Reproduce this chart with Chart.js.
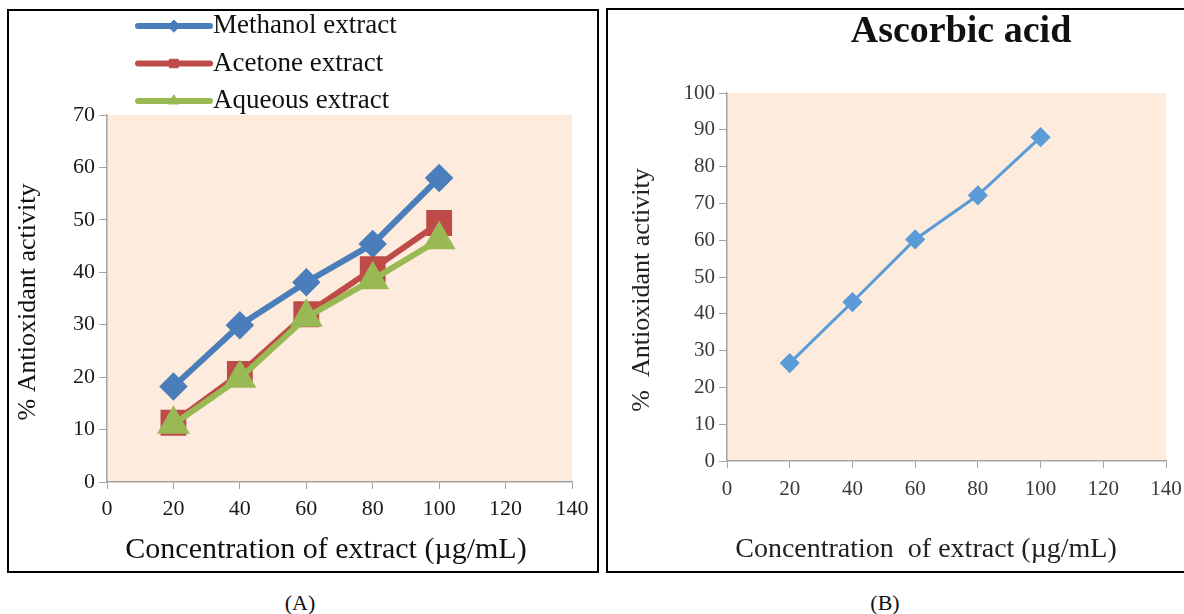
<!DOCTYPE html>
<html lang="en">
<head>
  <meta charset="UTF-8" />
  <title>Antioxidant activity</title>
  <script src="https://cdn.jsdelivr.net/npm/chart.js"></script>
  <style>
    html, body { margin: 0; padding: 0; background: #fff; overflow: hidden; }
    body { width: 1184px; height: 614px; position: relative; font-family: "Liberation Serif", "Times New Roman", serif; }
    .panel { position: absolute; border: 2px solid #000; overflow: hidden; background: #fff; }
    #panelA { left: 7px; top: 9px; width: 588px; height: 560px; }
    #panelB { left: 606px; top: 8px; width: 600px; height: 561px; }
    .caption { position: absolute; top: 590px; font-size: 22px; color: #111; transform: translateX(-50%); }
  </style>
</head>
<body>
  <div class="panel" id="panelA"><canvas id="chartA" width="588" height="560"></canvas></div>
  <div class="panel" id="panelB"><canvas id="chartB" width="576" height="561"></canvas></div>
  <div class="caption" style="left:300px">(A)</div>
  <div class="caption" style="left:885px">(B)</div>

  <script>
    // concentrations (µg/mL)
    const concentrations = [20, 40, 60, 80, 100];

    // panel A: extracts
    const methanol = [18.2, 29.9, 38.1, 45.4, 58.0];
    const acetone = [11.3, 20.6, 32.0, 40.6, 49.4];
    const aqueous = [11.0, 19.8, 31.4, 38.6, 46.2];

    // panel B: standard
    const ascorbic = [26.6, 43.2, 60.2, 72.2, 88.0];

    const xTicks = { min: 0, max: 140, step: 20 };
    const yTicksA = { min: 0, max: 70, step: 10 };
    const yTicksB = { min: 0, max: 100, step: 10 };

    const serif = "'Liberation Serif', 'Times New Roman', serif";
    const axisGray = "#a3a3a3";

    const toPoints = (ys) => ys.map((y, i) => ({ x: concentrations[i], y }));

    // peach plot area
    const plotBg = {
      id: "plotBg",
      beforeDraw(chart) {
        const { ctx, chartArea: a } = chart;
        ctx.save();
        ctx.fillStyle = "#fdebdd";
        ctx.fillRect(a.left, a.top, a.width, a.height);
        ctx.restore();
      }
    };

    // titles placed where the original figure has them
    const panelText = {
      id: "panelText",
      afterDraw(chart, args, opts) {
        const ctx = chart.ctx;
        (opts.items || []).forEach(t => {
          ctx.save();
          ctx.translate(t.x, t.y);
          if (t.rotate) ctx.rotate(t.rotate);
          ctx.font = t.font;
          ctx.fillStyle = t.color || "#111";
          ctx.textAlign = "center";
          ctx.textBaseline = "middle";
          ctx.fillText(t.text, 0, 0);
          ctx.restore();
        });
      }
    };

    // stacked legend in the top left corner of panel A
    const stackedLegend = {
      id: "stackedLegend",
      afterDraw(chart, args, opts) {
        if (!opts.display) return;
        const ctx = chart.ctx;
        chart.data.datasets.forEach((ds, i) => {
          const y = opts.top + i * opts.rowGap;
          ctx.save();
          ctx.strokeStyle = ds.borderColor;
          ctx.lineWidth = 6;
          ctx.lineCap = "round";
          ctx.beginPath();
          ctx.moveTo(opts.left, y);
          ctx.lineTo(opts.left + opts.lineLen, y);
          ctx.stroke();
          if (Chart.helpers && Chart.helpers.drawPoint) {
            ctx.fillStyle = ds.backgroundColor;
            ctx.strokeStyle = ds.borderColor;
            ctx.lineWidth = 1;
            Chart.helpers.drawPoint(ctx, { pointStyle: ds.pointStyle, radius: 6, rotation: 0, borderWidth: 1 }, opts.left + opts.lineLen / 2, y);
          }
          ctx.font = opts.font;
          ctx.fillStyle = "#111";
          ctx.textAlign = "left";
          ctx.textBaseline = "middle";
          ctx.fillText(ds.label, opts.left + opts.lineLen + 3, y);
          ctx.restore();
        });
      }
    };

    const axes = (yT, yWidth, xHeight, tickSize, tickColor, xPad) => ({
      x: {
        type: "linear",
        min: xTicks.min, max: xTicks.max,
        // fixed axis band; the end labels may run into the outer padding
        afterFit: (s) => { s.height = xHeight; s.paddingLeft = 0; s.paddingRight = 0; },
        ticks: { stepSize: xTicks.step, color: tickColor, padding: xPad, font: { family: serif, size: tickSize } },
        grid: { drawOnChartArea: false, drawTicks: true, tickLength: 7, color: axisGray },
        border: { display: true, color: axisGray, width: 1.5 }
      },
      y: {
        min: yT.min, max: yT.max,
        afterFit: (s) => { s.width = yWidth; },
        ticks: { stepSize: yT.step, color: tickColor, padding: 4, font: { family: serif, size: tickSize } },
        grid: { drawOnChartArea: false, drawTicks: true, tickLength: 8, color: axisGray },
        border: { display: true, color: axisGray, width: 1.5 }
      }
    });

    new Chart(document.getElementById("chartA"), {
      type: "line",
      data: {
        datasets: [
          { label: "Methanol extract", data: toPoints(methanol), borderColor: "#4a7ebb", backgroundColor: "#4a7ebb",
            borderWidth: 6, pointStyle: "rectRot", pointRadius: 10, tension: 0, order: 3 },
          { label: "Acetone extract", data: toPoints(acetone), borderColor: "#be4b48", backgroundColor: "#be4b48",
            borderWidth: 6, pointStyle: "rect", pointRadius: 14, tension: 0, order: 2 },
          { label: "Aqueous extract", data: toPoints(aqueous), borderColor: "#98b954", backgroundColor: "#98b954",
            borderWidth: 6, pointStyle: "triangle", pointRadius: 13, tension: 0, order: 1 }
        ]
      },
      options: {
        responsive: false,
        animation: false,
        layout: { padding: { left: 0, right: 25, top: 104, bottom: 0 } },
        scales: axes(yTicksA, 98, 89, 22, "#1a1a1a", 7),
        plugins: {
          legend: { display: false },
          tooltip: { enabled: false },
          stackedLegend: { display: true, left: 129, top: 15, rowGap: 37.5, lineLen: 72, font: `27px ${serif}` },
          panelText: {
            items: [
              { text: "% Antioxidant activity", x: 19, y: 291, rotate: -Math.PI / 2, font: `26px ${serif}` },
              { text: "Concentration of extract (\u00b5g/mL)", x: 317, y: 539, font: `30px ${serif}` }
            ]
          }
        }
      },
      plugins: [plotBg, stackedLegend, panelText]
    });

    new Chart(document.getElementById("chartB"), {
      type: "line",
      data: {
        datasets: [
          { label: "Ascorbic acid", data: toPoints(ascorbic), borderColor: "#5a9bd8", backgroundColor: "#5a9bd8",
            borderWidth: 3, pointStyle: "rectRot", pointRadius: 8, tension: 0 }
        ]
      },
      options: {
        responsive: false,
        animation: false,
        layout: { padding: { left: 0, right: 18, top: 83, bottom: 0 } },
        scales: axes(yTicksB, 119, 110, 21, "#3a3a3a", 9),
        plugins: {
          legend: { display: false },
          tooltip: { enabled: false },
          panelText: {
            items: [
              { text: "Ascorbic acid", x: 353, y: 22, font: `bold 38px ${serif}` },
              { text: "%  Antioxidant activity", x: 34, y: 280, rotate: -Math.PI / 2, font: `26px ${serif}`, color: "#222" },
              { text: "Concentration  of extract (\u00b5g/mL)", x: 318, y: 540, font: `28px ${serif}`, color: "#222" }
            ]
          }
        }
      },
      plugins: [plotBg, panelText]
    });
  </script>
</body>
</html>
